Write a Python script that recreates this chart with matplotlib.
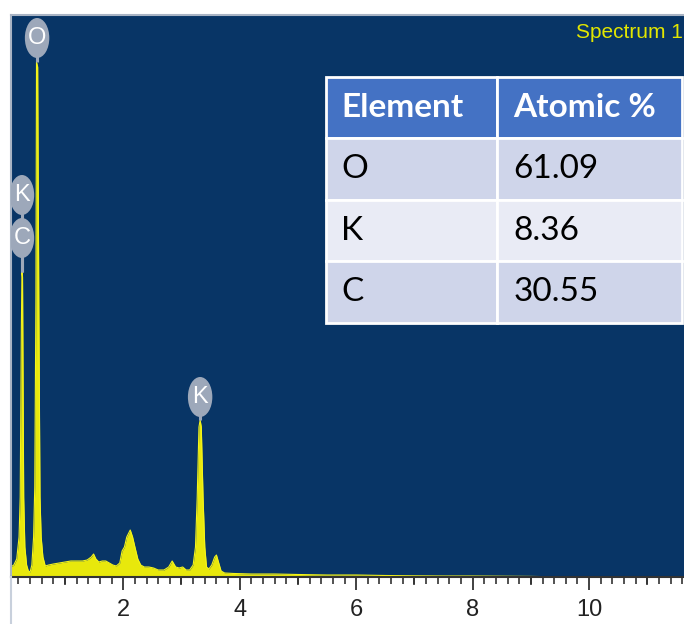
import matplotlib.pyplot as plt
from matplotlib.patches import Ellipse
from matplotlib.lines import Line2D
from matplotlib.ticker import MultipleLocator

# EDS spectrum, counts read per energy (keV)
energy = [0.07, 0.12, 0.17, 0.21, 0.23, 0.25, 0.26, 0.27, 0.29, 0.31, 0.34, 0.37,
          0.40, 0.43, 0.46, 0.48, 0.50, 0.51, 0.53, 0.55, 0.57, 0.59, 0.62, 0.66,
          0.72, 0.80, 0.90, 1.00, 1.10, 1.20, 1.30, 1.38, 1.45, 1.49, 1.53, 1.58,
          1.64, 1.70, 1.76, 1.82, 1.88, 1.94, 1.98, 2.02, 2.06, 2.12, 2.16, 2.20,
          2.25, 2.30, 2.36, 2.44, 2.52, 2.60, 2.70, 2.78, 2.84, 2.90, 2.96, 3.02,
          3.08, 3.14, 3.20, 3.24, 3.27, 3.30, 3.32, 3.34, 3.37, 3.40, 3.43, 3.47,
          3.52, 3.57, 3.60, 3.64, 3.68, 3.74, 3.90, 4.2, 4.6, 5.0, 5.5, 6.0, 6.5,
          7.0, 7.5, 8.0, 8.5, 9.0, 9.3, 9.5, 11.7]
counts = [10, 12, 18, 40, 80, 250, 305, 300, 80, 30, 12, 6,
          5, 12, 40, 90, 280, 515, 510, 270, 80, 40, 20, 11,
          12, 13, 14, 15, 16, 16, 16, 17, 20, 23, 18, 15,
          16, 16, 14, 12, 11, 14, 26, 30, 40, 47, 40, 30,
          18, 12, 10, 10, 9, 7, 7, 10, 16, 10, 9, 10,
          7, 7, 12, 30, 80, 150, 157, 150, 80, 30, 10, 8,
          12, 20, 22, 14, 6, 4, 3.5, 3, 3, 2.5, 2, 2, 1.5,
          1.2, 1.0, 1.0, 0.8, 0.6, 0.3, 0, 0]

# peak labels: element, energy, peak counts, label centre
peak_el = ["O", "K", "C", "K"]
peak_e = [0.52, 0.26, 0.26, 3.32]
peak_top = [515, 305, 305, 157]
label_y = [539, 382, 339, 180]

# quantification table
elements = ["O", "K", "C"]
atomic_pct = ["61.09", "8.36", "30.55"]

narrow = ["Liberation Sans Narrow", "Liberation Sans", "DejaVu Sans"]

fig = plt.figure(figsize=(6.84, 6.24), dpi=100)
ax = fig.add_axes([11/684, 47/624, 673/684, 562/624])
ax.set_facecolor("#083566")
ax.set_xlim(0.072, 11.63)
ax.set_ylim(0, 562)

ax.fill_between(energy, counts, 0, color="#e8e80c", lw=0)
ax.plot(energy, counts, color="#f4f41a", lw=0.8)

# peak markers
for el, e, top, yc in zip(peak_el, peak_e, peak_top, label_y):
    ax.plot([e, e], [top, yc - 18], color="#9da8ba", lw=2.2, solid_capstyle="butt")
for el, e, top, yc in zip(peak_el, peak_e, peak_top, label_y):
    ax.add_patch(Ellipse((e, yc), 0.42, 40, facecolor="#9da8ba", edgecolor="none", zorder=3))
    ax.text(e, yc, el, color="white", fontsize=17, family=narrow,
            ha="center", va="center", zorder=4)

fig.text(683/684, 1 - 33/624, "Spectrum 1", color="#e2e600", fontsize=15,
         family=narrow, ha="right", va="center")

# axes styling
ax.set_yticks([])
ax.xaxis.set_major_locator(MultipleLocator(2))
ax.xaxis.set_minor_locator(MultipleLocator(0.2))
ax.tick_params(axis="x", which="major", length=9, width=1.3, color="#333333",
               labelsize=17, labelcolor="#222222", pad=7)
ax.tick_params(axis="x", which="minor", length=5, width=1.2, color="#333333")
for lab in ax.get_xticklabels():
    lab.set_family(narrow)
for x in [1, 3, 5, 7, 9, 11]:
    ax.plot([x, x], [0, -7], color="#333333", lw=1.3, clip_on=False)
ax.spines["right"].set_visible(False)
ax.spines["top"].set_color("#a9b4c4")
ax.spines["left"].set_color("#a9b4c4")
ax.spines["top"].set_linewidth(1.5)
ax.spines["left"].set_linewidth(1.5)
ax.spines["bottom"].set_color("#333333")
ax.spines["bottom"].set_linewidth(1.5)
fig.add_artist(Line2D([11/684, 11/684], [0, 47/624], color="#c8d0dc", lw=1.5))

# table
tbl = ax.table(cellText=[[e, p] for e, p in zip(elements, atomic_pct)],
               colLabels=["Element", "Atomic %"], cellLoc="left", colLoc="left",
               bbox=[0.468, 0.452, 0.529, 0.438], colWidths=[171, 185])
tbl.auto_set_font_size(False)
row_colors = ["#cfd5ea", "#e9ebf5", "#cfd5ea"]
for (r, c), cell in tbl.get_celld().items():
    cell.set_edgecolor("white")
    cell.set_linewidth(2)
    cell.PAD = 0.09
    txt = cell.get_text()
    txt.set_fontsize(24)
    txt.set_family(["Lato", "DejaVu Sans"])
    if r == 0:
        cell.set_facecolor("#4472c4")
        txt.set_color("white")
        txt.set_fontweight("bold")
    else:
        cell.set_facecolor(row_colors[r - 1])
        txt.set_color("black")

fig.savefig("out.png", dpi=100)
